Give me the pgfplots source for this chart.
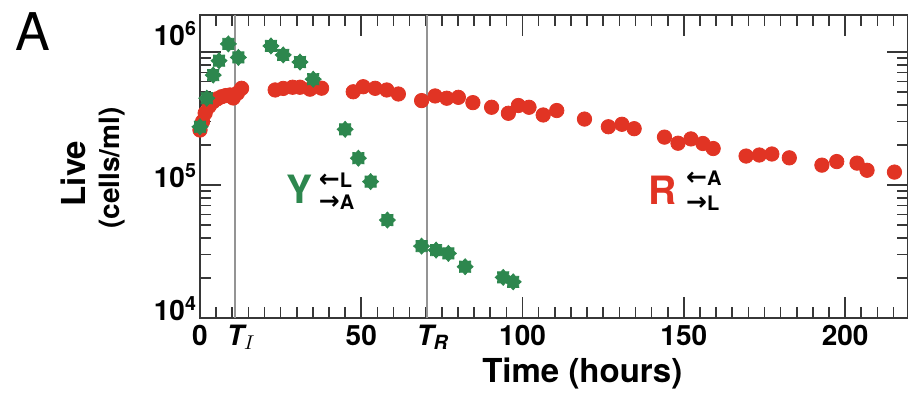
\documentclass[border=0pt]{standalone}
\usepackage{pgfplots}
\pgfplotsset{compat=1.18}
\usepackage{fontspec}
\setmainfont{TeX Gyre Heros}
\newfontfamily\dejavu{DejaVu Sans}
\definecolor{rred}{RGB}{225,52,36}
\definecolor{ggreen}{RGB}{45,135,78}
\definecolor{axgray}{RGB}{55,55,55}
\newcommand{\la}{{\dejavu\bfseries\fontsize{12.5}{12.5}\selectfont ←}}
\newcommand{\ra}{{\dejavu\bfseries\fontsize{12.5}{12.5}\selectfont →}}
\pgfdeclareplotmark{gstar}{%
\pgfpathmoveto{\pgfpointpolar{0}{\pgfplotmarksize}}%
\pgfpathlineto{\pgfpointpolar{22.5}{0.74\pgfplotmarksize}}%
\pgfpathlineto{\pgfpointpolar{45}{\pgfplotmarksize}}%
\pgfpathlineto{\pgfpointpolar{67.5}{0.74\pgfplotmarksize}}%
\pgfpathlineto{\pgfpointpolar{90}{\pgfplotmarksize}}%
\pgfpathlineto{\pgfpointpolar{112.5}{0.74\pgfplotmarksize}}%
\pgfpathlineto{\pgfpointpolar{135}{\pgfplotmarksize}}%
\pgfpathlineto{\pgfpointpolar{157.5}{0.74\pgfplotmarksize}}%
\pgfpathlineto{\pgfpointpolar{180}{\pgfplotmarksize}}%
\pgfpathlineto{\pgfpointpolar{202.5}{0.74\pgfplotmarksize}}%
\pgfpathlineto{\pgfpointpolar{225}{\pgfplotmarksize}}%
\pgfpathlineto{\pgfpointpolar{247.5}{0.74\pgfplotmarksize}}%
\pgfpathlineto{\pgfpointpolar{270}{\pgfplotmarksize}}%
\pgfpathlineto{\pgfpointpolar{292.5}{0.74\pgfplotmarksize}}%
\pgfpathlineto{\pgfpointpolar{315}{\pgfplotmarksize}}%
\pgfpathlineto{\pgfpointpolar{337.5}{0.74\pgfplotmarksize}}%
\pgfpathclose
\pgfusepathqfillstroke}
\pgfplotstableread{
h v
0 2.59e5
0.8 3.0e5
1.6 3.47e5
2.8 3.9e5
4.1 4.23e5
5.4 4.45e5
6.7 4.61e5
8.0 4.7e5
9.3 4.75e5
10.3 4.51e5
11.6 4.9e5
12.9 5.33e5
23.3 5.18e5
25.8 5.32e5
28.7 5.43e5
31.0 5.43e5
34.1 5.25e5
37.7 5.34e5
47.5 5.02e5
50.6 5.48e5
54.3 5.33e5
57.9 5.18e5
61.5 4.83e5
68.7 4.31e5
72.9 4.67e5
76.5 4.49e5
80.1 4.56e5
84.6 4.16e5
90.4 3.84e5
95.6 3.46e5
98.7 3.96e5
102.0 3.84e5
106.4 3.36e5
110.6 3.63e5
119.2 3.13e5
126.6 2.74e5
130.8 2.86e5
134.6 2.65e5
144.0 2.29e5
148.2 2.06e5
152.2 2.22e5
155.9 2.05e5
159.1 1.88e5
169.3 1.65e5
173.4 1.68e5
177.3 1.71e5
182.7 1.60e5
192.8 1.41e5
197.4 1.50e5
203.7 1.46e5
206.8 1.29e5
215.3 1.25e5
}\redtable
\pgfplotstableread{
h v
0 2.74e5
2.1 4.49e5
4.1 6.7e5
5.9 8.6e5
8.8 1.15e6
11.9 9.1e5
22.0 1.11e6
25.8 9.5e5
31.0 8.4e5
35.1 6.24e5
45.0 2.62e5
49.1 1.59e5
52.9 1.06e5
58.1 5.45e4
68.7 3.47e4
73.2 3.24e4
77.0 3.06e4
82.2 2.43e4
94.0 2.02e4
97.1 1.87e4
}\greentable
\begin{document}
\begin{tikzpicture}
\path[use as bounding box] (-100pt,-38.5pt) rectangle (354pt,159pt);
\begin{axis}[
 scale only axis, width=354pt, height=151.5pt,
 ymode=log, xmin=0, xmax=219.5, ymin=1e4, ymax=1.897e6,
 xtick={0,50,100,150,200},
 xticklabels={0,50,100,150,200},
 minor xtick={5,10,...,215},
 ytick={1e4,1e5,1e6},
 yticklabels={10\textsuperscript{4},10\textsuperscript{5},\raisebox{4.5pt}{10\textsuperscript{6}}},
 minor ytick={2e4,3e4,4e4,5e4,6e4,7e4,8e4,9e4,2e5,3e5,4e5,5e5,6e5,7e5,8e5,9e5},
 major tick length=10.5pt, minor tick length=5.5pt,
 tick style={axgray, line width=0.8pt},
 axis line style={axgray, line width=1.1pt},
 ticklabel style={font=\bfseries\fontsize{14}{14}\selectfont},
 yticklabel style={anchor=base east, yshift=-1.5pt, xshift=2pt},
 extra x ticks={10.9,70.3},
 extra x tick labels={{\itshape T}\textsubscript{$I$},{\itshape T}\textsubscript{\itshape R}},
 extra x tick style={major tick length=0pt, grid=major, xticklabel style={xshift=3pt}},
 major grid style={black!42, line width=1.1pt},
 clip=false,
]
\addplot[only marks, mark=*, mark size=3.6pt, mark options={draw=rred, fill=rred}] table[x=h, y=v] {\redtable};
\addplot[only marks, mark=gstar, mark size=4pt, mark options={draw=ggreen, fill=ggreen}] table[x=h, y=v] {\greentable};
\node[font=\bfseries\fontsize{19.5}{19.5}\selectfont, text=ggreen, inner sep=0pt] at (axis description cs:0.1410,0.4257) {Y};
\node[font=\bfseries\fontsize{10}{10}\selectfont, inner sep=0pt, anchor=west] at (axis description cs:0.1675,0.455) {\la L};
\node[font=\bfseries\fontsize{10}{10}\selectfont, inner sep=0pt, anchor=west] at (axis description cs:0.1675,0.381) {\ra A};
\node[font=\bfseries\fontsize{19.5}{19.5}\selectfont, text=rred, inner sep=0pt] at (axis description cs:0.6530,0.4224) {R};
\node[font=\bfseries\fontsize{10}{10}\selectfont, inner sep=0pt, anchor=west] at (axis description cs:0.6860,0.462) {\la A};
\node[font=\bfseries\fontsize{10}{10}\selectfont, inner sep=0pt, anchor=west] at (axis description cs:0.6860,0.378) {\ra L};
\node[rotate=90, font=\bfseries\fontsize{16.5}{16.5}\selectfont, inner sep=0pt] at (axis description cs:-0.1794,0.477) {Live};
\node[rotate=90, font=\bfseries\fontsize{14}{14}\selectfont, inner sep=0pt] at (axis description cs:-0.1243,0.495) {(cells/ml)};
\node[font=\bfseries\fontsize{16.5}{16.5}\selectfont, inner sep=0pt] at (axis description cs:0.540,-0.1848) {Time (hours)};
\node[font=\fontsize{26}{26}\selectfont, inner sep=0pt] at (axis description cs:-0.2359,0.9439) {A};
\end{axis}
\end{tikzpicture}
\end{document}
